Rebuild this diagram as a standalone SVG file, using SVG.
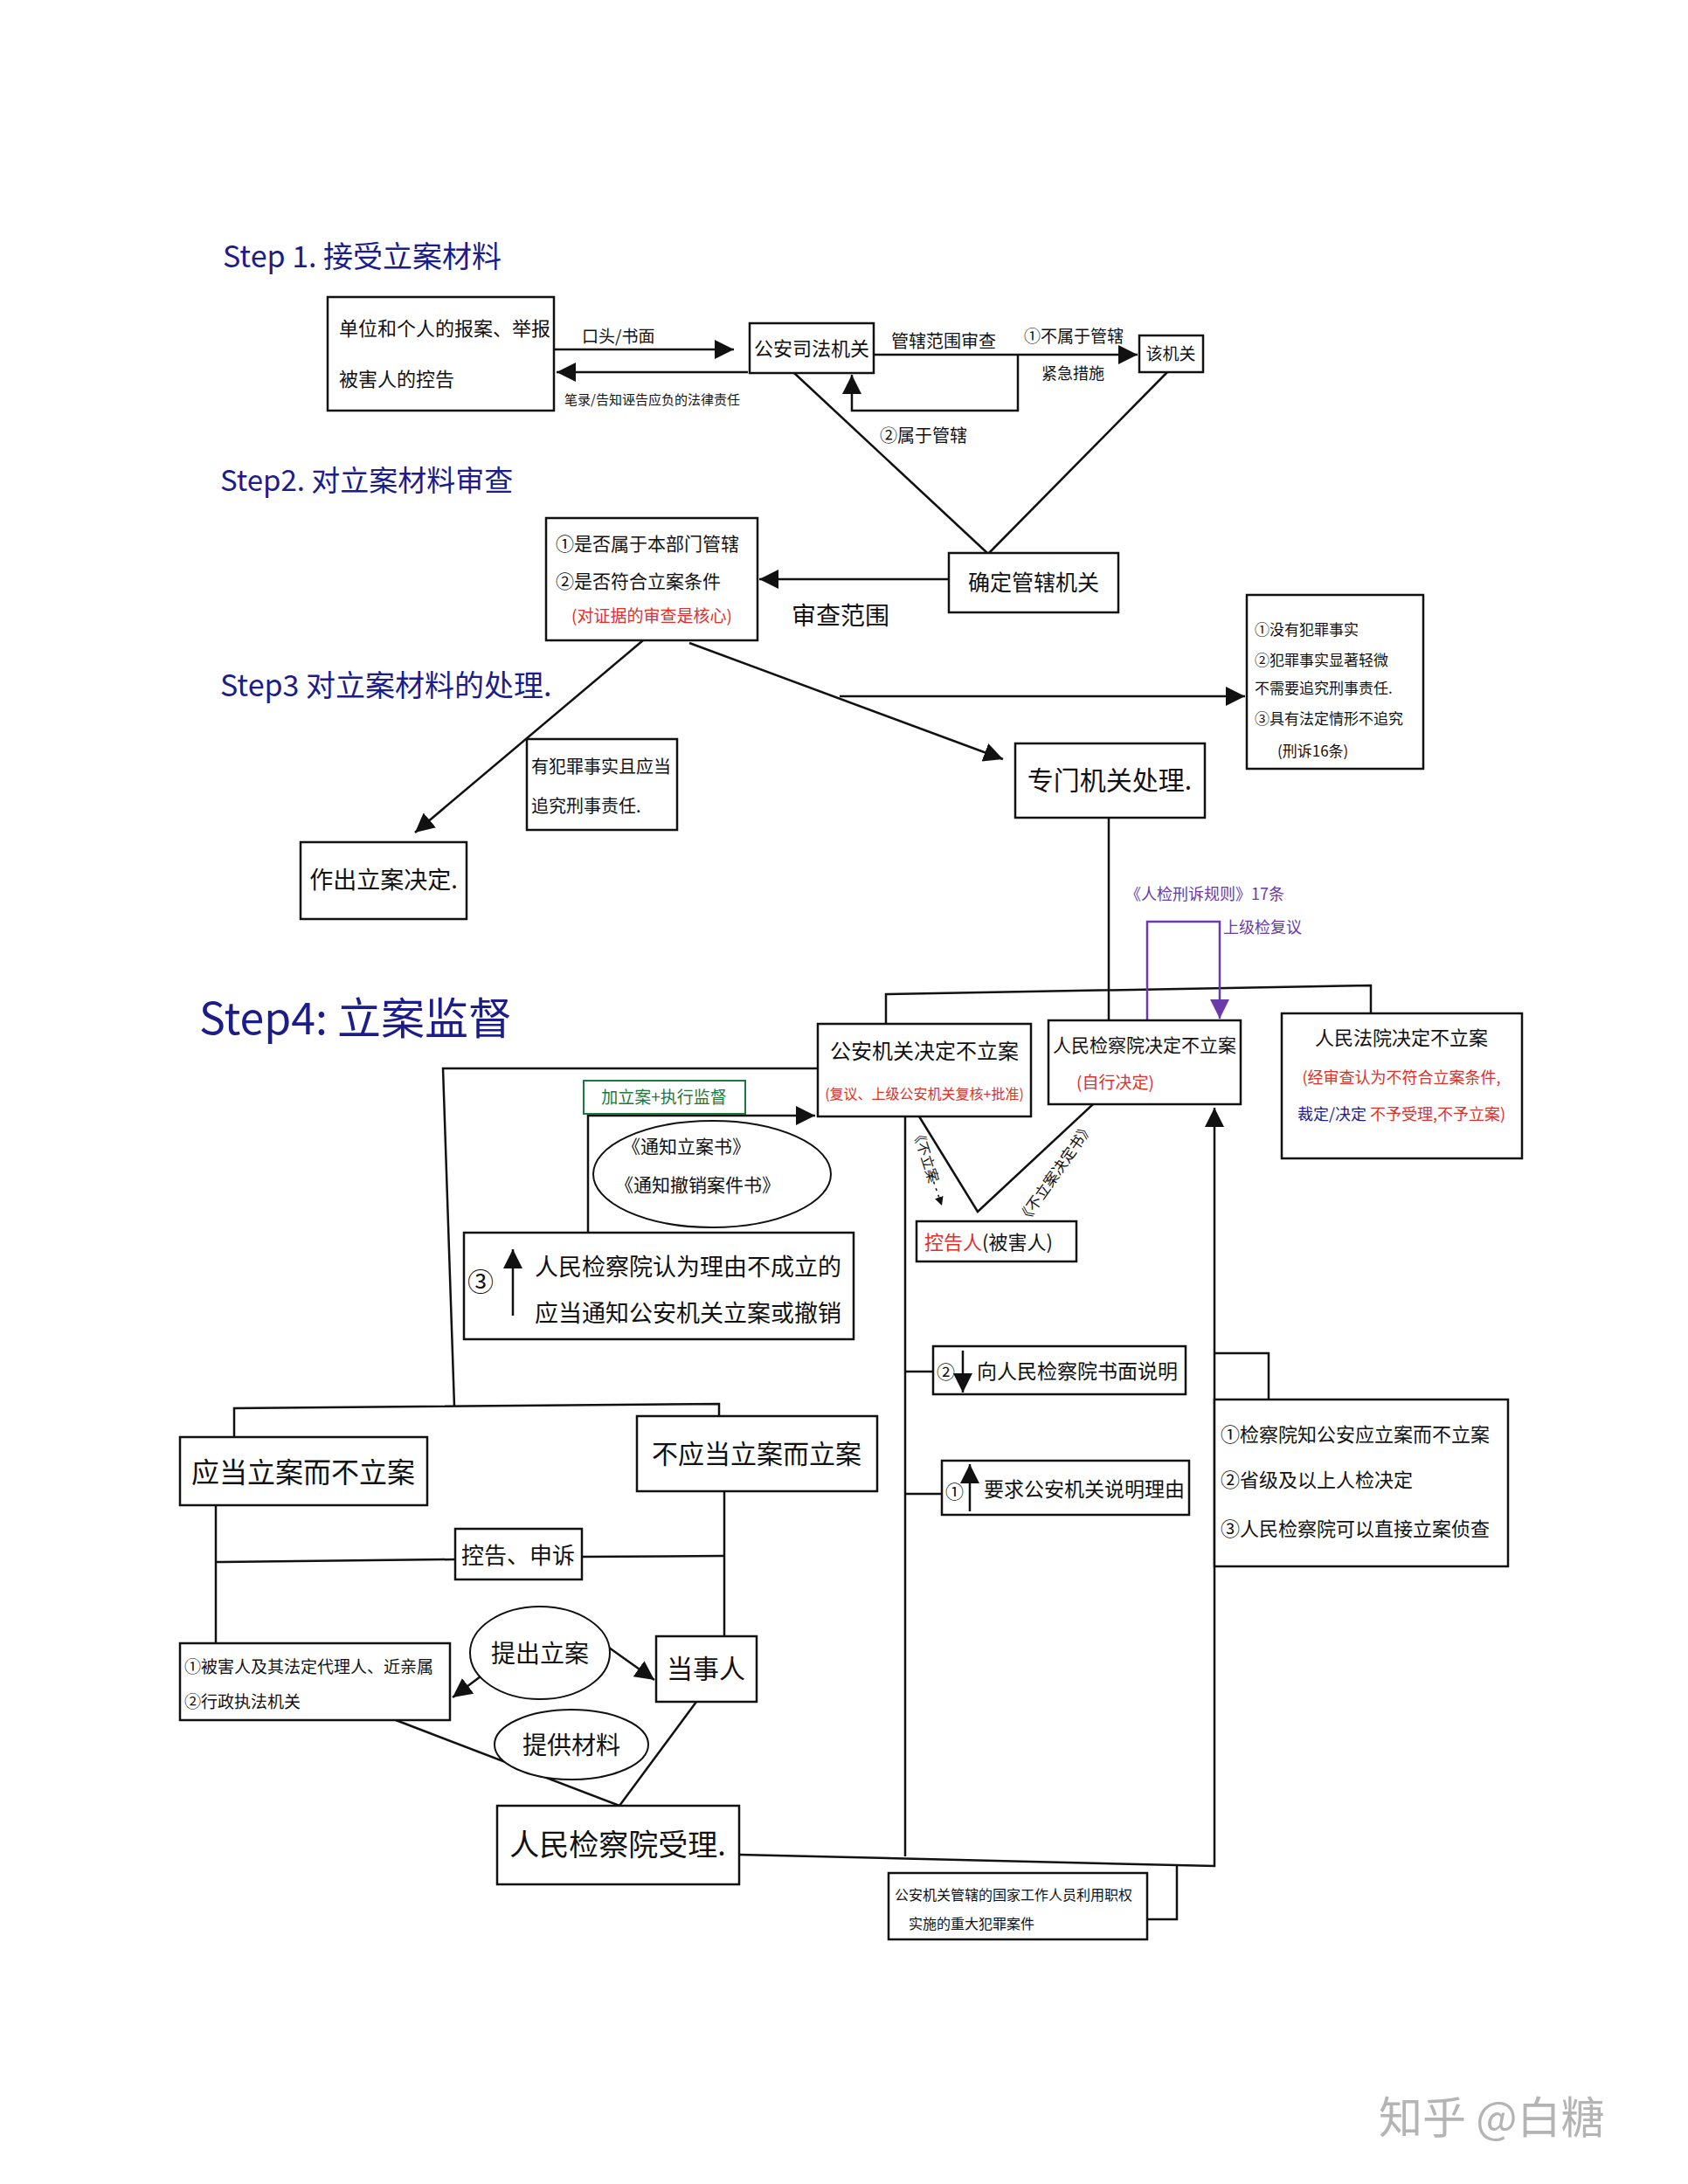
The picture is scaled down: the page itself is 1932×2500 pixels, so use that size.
<svg xmlns="http://www.w3.org/2000/svg" width="1932" height="2500" viewBox="0 0 1932 2500">
<style>
text{font-family:"Noto Sans CJK SC","Noto Sans",sans-serif;fill:#111}
.box{fill:#fff;stroke:#111;stroke-width:2.5}
.ln{fill:none;stroke:#111;stroke-width:2.5}
.title{fill:#1c1c8a}
.red{fill:#e0302a}
.blue{fill:#1c1c8a}
.purple{fill:#6a3aa8}
.green{fill:#1a7a3a}
.m{text-anchor:middle}
</style>
<defs>
<marker id="ah" viewBox="0 0 10 10" refX="10" refY="5" markerWidth="22" markerHeight="22" markerUnits="userSpaceOnUse" orient="auto"><path d="M0,0 L10,5 L0,10 z" fill="#111"/></marker>
<marker id="ahp" viewBox="0 0 10 10" refX="10" refY="5" markerWidth="22" markerHeight="22" markerUnits="userSpaceOnUse" orient="auto"><path d="M0,0 L10,5 L0,10 z" fill="#6a3aa8"/></marker>
<marker id="ahs" viewBox="0 0 10 10" refX="10" refY="5" markerWidth="10" markerHeight="10" markerUnits="userSpaceOnUse" orient="auto"><path d="M0,0 L10,5 L0,10 z" fill="#111"/></marker>
</defs>
<rect width="1932" height="2500" fill="#fff"/>

<!-- titles -->
<text class="title" x="255" y="306" font-size="34">Step 1. 接受立案材料</text>
<text class="title" x="252" y="562" font-size="33">Step2. 对立案材料审查</text>
<text class="title" x="252" y="797" font-size="34">Step3 对立案材料的处理.</text>
<text class="title" x="228" y="1184" font-size="50">Step4: 立案监督</text>

<!-- connectors -->
<g id="connectors">
  <line class="ln" x1="634" y1="400" x2="840" y2="400" marker-end="url(#ah)"/>
  <line class="ln" x1="856" y1="426" x2="637" y2="426" marker-end="url(#ah)"/>
  <line class="ln" x1="1000" y1="406" x2="1302" y2="406" marker-end="url(#ah)"/>
  <polyline class="ln" points="1165,406 1165,470 975,470 975,429" marker-end="url(#ah)"/>
  <line class="ln" x1="909" y1="427" x2="1130" y2="633"/>
  <line class="ln" x1="1336" y1="426" x2="1132" y2="633"/>
  <line class="ln" x1="1086" y1="663" x2="869" y2="663" marker-end="url(#ah)"/>
  <line class="ln" x1="736" y1="733" x2="475" y2="953" marker-end="url(#ah)"/>
  <line class="ln" x1="789" y1="736" x2="1148" y2="869" marker-end="url(#ah)"/>
  <line class="ln" x1="961" y1="797" x2="1425" y2="797" marker-end="url(#ah)"/>
  <line class="ln" x1="1269" y1="936" x2="1269" y2="1170"/>
  <polyline class="ln" points="1014,1172 1014,1138 1569,1128 1569,1160"/>
  <polyline fill="none" stroke="#6a3aa8" stroke-width="2.5" points="1313,1168 1313,1055 1396,1055 1396,1166" marker-end="url(#ahp)"/>
  <polyline class="ln" points="936,1223 507,1223 520,1610"/>
  <polyline class="ln" points="268,1645 268,1612 823,1607 823,1621"/>
  <polyline class="ln" points="673,1411 673,1277 933,1277" marker-end="url(#ah)"/>
  <polyline class="ln" points="1052,1278 1119,1387 1251,1264"/>
  <line class="ln" x1="1036" y1="1278" x2="1036" y2="2125"/>
  <polyline class="ln" points="846,2123 1390,2136 1390,1268" marker-end="url(#ah)"/>
  <line class="ln" x1="1036" y1="1570" x2="1068" y2="1570"/>
  <line class="ln" x1="1036" y1="1710" x2="1078" y2="1710"/>
  <polyline class="ln" points="1390,1549 1452,1549 1452,1602"/>
  <polyline class="ln" points="1313,2197 1347,2197 1347,2136"/>
  <line class="ln" x1="247" y1="1723" x2="247" y2="1881"/>
  <line class="ln" x1="829" y1="1707" x2="829" y2="1873"/>
  <line class="ln" x1="247" y1="1788" x2="521" y2="1785"/>
  <line class="ln" x1="666" y1="1782" x2="829" y2="1781"/>
  <line class="ln" x1="558" y1="1913" x2="518" y2="1943" marker-end="url(#ah)"/>
  <line class="ln" x1="697" y1="1886" x2="749" y2="1923" marker-end="url(#ah)"/>
  <polyline class="ln" points="453,1969 709,2067 797,1948"/>
  <line x1="1066" y1="1345" x2="1078" y2="1380" stroke="#111" stroke-width="1.5" stroke-dasharray="3,5" marker-end="url(#ahs)"/>
</g>

<!-- connector labels -->
<text x="666" y="392" font-size="19">口头/书面</text>
<text x="646" y="463" font-size="15">笔录/告知诬告应负的法律责任</text>
<text x="1020" y="398" font-size="20">管辖范围审查</text>
<text x="1172" y="392" font-size="19">①不属于管辖</text>
<text x="1192" y="434" font-size="18">紧急措施</text>
<text x="1007" y="506" font-size="20">②属于管辖</text>
<text x="906" y="715" font-size="28">审查范围</text>
<text class="purple" x="1288" y="1030" font-size="18">《人检刑诉规则》17条</text>
<text class="purple" x="1400" y="1068" font-size="18">上级检复议</text>
<text x="0" y="0" font-size="16" transform="translate(1044,1294) rotate(72)">《不立案</text>
<text x="0" y="0" font-size="17" transform="translate(1174,1402) rotate(-55)">《不立案决定书》</text>

<!-- Step 1 nodes -->
<g id="report">
  <rect class="box" x="375" y="340" width="259" height="130"/>
  <text x="388" y="384" font-size="22">单位和个人的报案、举报</text>
  <text x="388" y="442" font-size="22">被害人的控告</text>
</g>
<g id="gongan-sifa">
  <rect class="box" x="858" y="370" width="142" height="57"/>
  <text class="m" x="929" y="407" font-size="22">公安司法机关</text>
</g>
<g id="gai-jiguan">
  <rect class="box" x="1304" y="384" width="73" height="42"/>
  <text class="m" x="1340" y="412" font-size="19">该机关</text>
</g>
<g id="queding">
  <rect class="box" x="1086" y="633" width="194" height="68"/>
  <text class="m" x="1183" y="676" font-size="25">确定管辖机关</text>
</g>

<!-- Step 2 node -->
<g id="shencha">
  <rect class="box" x="625" y="593" width="242" height="140"/>
  <text x="636" y="630" font-size="21">①是否属于本部门管辖</text>
  <text x="636" y="673" font-size="21">②是否符合立案条件</text>
  <text class="red m" x="746" y="712" font-size="19">(对证据的审查是核心)</text>
</g>

<!-- Step 3 nodes -->
<g id="you-fanzui">
  <rect class="box" x="603" y="846" width="172" height="104"/>
  <text x="608" y="885" font-size="20">有犯罪事实且应当</text>
  <text x="608" y="930" font-size="20">追究刑事责任.</text>
</g>
<g id="li-an">
  <rect class="box" x="344" y="964" width="190" height="88"/>
  <text class="m" x="439" y="1017" font-size="27">作出立案决定.</text>
</g>
<g id="zhuanmen">
  <rect class="box" x="1162" y="851" width="217" height="85"/>
  <text class="m" x="1270" y="904" font-size="30">专门机关处理.</text>
</g>
<g id="bu-lian-qingxing">
  <rect class="box" x="1427" y="681" width="202" height="199"/>
  <text x="1436" y="727" font-size="17">①没有犯罪事实</text>
  <text x="1436" y="762" font-size="17">②犯罪事实显著轻微</text>
  <text x="1436" y="794" font-size="17">不需要追究刑事责任.</text>
  <text x="1436" y="829" font-size="17">③具有法定情形不追究</text>
  <text x="1462" y="866" font-size="17">(刑诉16条)</text>
</g>

<!-- Step 4 nodes -->
<g id="gongan-bulian">
  <rect class="box" x="936" y="1172" width="244" height="106"/>
  <text class="m" x="1058" y="1212" font-size="24">公安机关决定不立案</text>
  <text class="red m" x="1058" y="1258" font-size="16">(复议、上级公安机关复核+批准)</text>
</g>
<g id="jianchayuan-bulian">
  <rect class="box" x="1200" y="1168" width="220" height="96"/>
  <text class="m" x="1310" y="1204" font-size="21">人民检察院决定不立案</text>
  <text class="red" x="1232" y="1246" font-size="19">(自行决定)</text>
</g>
<g id="fayuan-bulian">
  <rect class="box" x="1467" y="1160" width="275" height="166"/>
  <text class="m" x="1604" y="1196" font-size="22">人民法院决定不立案</text>
  <text class="red m" x="1604" y="1240" font-size="18">(经审查认为不符合立案条件,</text>
  <text class="m" x="1604" y="1282" font-size="18"><tspan class="blue">裁定/决定</tspan> <tspan class="red">不予受理,不予立案)</tspan></text>
</g>
<g id="green-label">
  <rect x="668" y="1237" width="185" height="38" fill="#fff" stroke="#1a7a3a" stroke-width="2"/>
  <text class="green m" x="760" y="1263" font-size="19">加立案+执行监督</text>
</g>
<g id="tongzhi">
  <ellipse cx="815" cy="1344" rx="136" ry="61" fill="#fff" stroke="#111" stroke-width="2"/>
  <text x="712" y="1320" font-size="21">《通知立案书》</text>
  <text x="704" y="1364" font-size="21">《通知撤销案件书》</text>
</g>
<g id="step3-box">
  <rect class="box" x="531" y="1411" width="446" height="122"/>
  <text x="535" y="1478" font-size="30">③</text>
  <line x1="587" y1="1506" x2="587" y2="1430" stroke="#111" stroke-width="2.5" marker-end="url(#ah)"/>
  <text x="612" y="1460" font-size="27">人民检察院认为理由不成立的</text>
  <text x="612" y="1513" font-size="27">应当通知公安机关立案或撤销</text>
</g>
<g id="konggaoren">
  <rect class="box" x="1049" y="1398" width="183" height="46"/>
  <text x="1058" y="1430" font-size="22"><tspan class="red">控告人</tspan>(被害人)</text>
</g>
<g id="step2-box">
  <rect class="box" x="1068" y="1541" width="289" height="55"/>
  <text x="1072" y="1578" font-size="21">②</text>
  <line x1="1102" y1="1546" x2="1102" y2="1594" stroke="#111" stroke-width="2.5" marker-end="url(#ah)"/>
  <text x="1118" y="1578" font-size="23">向人民检察院书面说明</text>
</g>
<g id="step1-box">
  <rect class="box" x="1078" y="1672" width="283" height="62"/>
  <text x="1082" y="1715" font-size="21">①</text>
  <line x1="1110" y1="1730" x2="1110" y2="1676" stroke="#111" stroke-width="2.5" marker-end="url(#ah)"/>
  <text x="1126" y="1713" font-size="23">要求公安机关说明理由</text>
</g>
<g id="zhijie-lian">
  <rect class="box" x="1390" y="1602" width="336" height="191"/>
  <text x="1397" y="1650" font-size="22">①检察院知公安应立案而不立案</text>
  <text x="1397" y="1702" font-size="22">②省级及以上人检决定</text>
  <text x="1397" y="1758" font-size="22">③人民检察院可以直接立案侦查</text>
</g>
<g id="guojia-gongzuo">
  <rect class="box" x="1017" y="2144" width="296" height="76"/>
  <text x="1024" y="2175" font-size="16">公安机关管辖的国家工作人员利用职权</text>
  <text x="1040" y="2208" font-size="16">实施的重大犯罪案件</text>
</g>
<g id="yingdang">
  <rect class="box" x="206" y="1645" width="283" height="78"/>
  <text class="m" x="347" y="1697" font-size="32">应当立案而不立案</text>
</g>
<g id="buyingdang">
  <rect class="box" x="729" y="1621" width="275" height="86"/>
  <text class="m" x="866" y="1675" font-size="30">不应当立案而立案</text>
</g>
<g id="konggao-shensu">
  <rect class="box" x="521" y="1750" width="145" height="58"/>
  <text class="m" x="593" y="1790" font-size="26">控告、申诉</text>
</g>
<g id="beihairen">
  <rect class="box" x="206" y="1881" width="309" height="88"/>
  <text x="211" y="1915" font-size="19">①被害人及其法定代理人、近亲属</text>
  <text x="211" y="1955" font-size="19">②行政执法机关</text>
</g>
<g id="dangshiren">
  <rect class="box" x="751" y="1873" width="115" height="75"/>
  <text class="m" x="808" y="1921" font-size="30">当事人</text>
</g>
<g id="tichu">
  <ellipse cx="618" cy="1892" rx="80" ry="53" fill="#fff" stroke="#111" stroke-width="2"/>
  <text class="m" x="618" y="1903" font-size="28">提出立案</text>
</g>
<g id="tigong">
  <ellipse cx="654" cy="1997" rx="88" ry="40" fill="#fff" stroke="#111" stroke-width="2"/>
  <text class="m" x="654" y="2008" font-size="28">提供材料</text>
</g>
<g id="shouli">
  <rect class="box" x="569" y="2067" width="277" height="90"/>
  <text class="m" x="707" y="2124" font-size="34">人民检察院受理.</text>
</g>

<text x="1578" y="2442" font-size="50" style="fill:#b4b4b4">知乎 @白糖</text>
</svg>
